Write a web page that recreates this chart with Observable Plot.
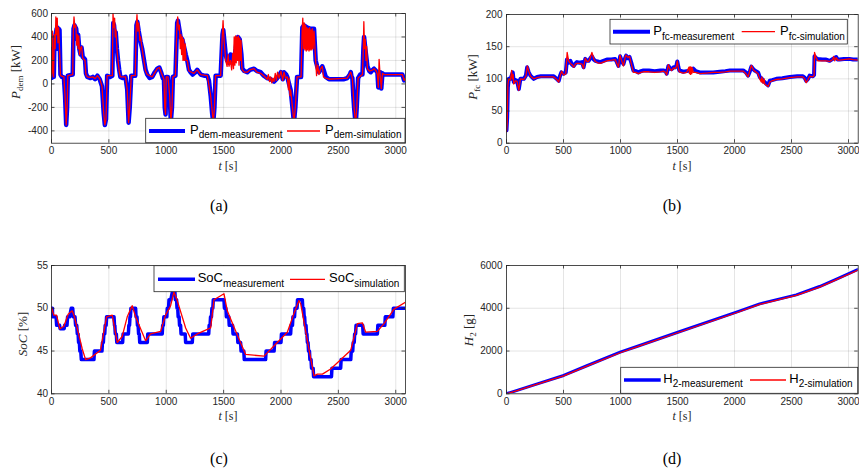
<!DOCTYPE html>
<html>
<head>
<meta charset="utf-8">
<script src="https://cdn.jsdelivr.net/npm/d3@7"></script>
<script src="https://cdn.jsdelivr.net/npm/@observablehq/plot@0.6"></script>
<style>
  html, body { margin: 0; padding: 0; background: #fff; }
  #page { position: relative; width: 859px; height: 474px; overflow: hidden; background: #fff; }
  .panel { position: absolute; }
  #overlay { position: absolute; left: 0; top: 0; pointer-events: none; }
</style>
</head>
<body>
<div id="page"></div>
<script>
// ---------------- DATA ----------------
const xTicks = [0, 500, 1000, 1500, 2000, 2500, 3000];
const pDemTicks = [-400, -200, 0, 200, 400, 600];
const pFcTicks = [0, 50, 100, 150, 200];
const socTicks = [40, 45, 50, 55];
const h2Ticks = [0, 2000, 4000, 6000];
const captions = ["(a)", "(b)", "(c)", "(d)"];

// [t (s), P_dem (kW)]
const pDemMeas = [[0,50],[4,280],[10,300],[14,90],[20,60],[26,380],[35,420],[45,470],[52,480],[58,300],[62,470],[70,460],[78,80],[90,60],[108,55],[118,-100],[128,-350],[136,-200],[142,70],[160,75],[185,80],[192,470],[200,500],[215,470],[224,380],[232,420],[242,300],[253,250],[262,310],[272,230],[282,220],[292,210],[300,90],[312,60],[340,50],[360,60],[380,40],[400,70],[420,40],[440,-20],[455,-250],[465,-350],[475,-300],[485,70],[510,60],[530,70],[538,520],[545,500],[552,420],[560,440],[570,300],[580,200],[590,120],[600,60],[620,50],[645,60],[660,-50],[672,-330],[682,-200],[695,70],[730,70],[740,500],[748,530],[760,450],[776,360],[790,300],[805,210],[820,120],[834,80],[855,50],[878,60],[900,100],[921,130],[940,140],[955,100],[970,50],[980,40],[987,-200],[994,-260],[1000,60],[1015,60],[1030,-100],[1040,-320],[1050,-200],[1058,60],[1080,70],[1095,520],[1102,540],[1115,460],[1125,400],[1140,380],[1154,320],[1170,250],[1183,200],[1198,120],[1212,100],[1230,80],[1241,90],[1255,100],[1270,120],[1285,100],[1300,80],[1330,70],[1358,70],[1372,30],[1387,-100],[1400,-250],[1410,-330],[1420,-200],[1430,70],[1474,70],[1490,420],[1497,460],[1505,380],[1518,250],[1530,200],[1547,180],[1560,250],[1575,180],[1590,200],[1605,300],[1615,380],[1625,400],[1640,380],[1655,250],[1663,130],[1680,110],[1706,100],[1730,120],[1765,130],[1790,110],[1823,100],[1850,70],[1880,50],[1910,40],[1939,20],[1960,40],[1983,70],[2000,100],[2015,40],[2026,100],[2045,80],[2055,60],[2070,0],[2084,-50],[2100,-200],[2113,-330],[2125,-200],[2140,60],[2175,60],[2186,480],[2200,500],[2230,480],[2260,470],[2288,470],[2302,200],[2315,150],[2331,100],[2345,120],[2360,150],[2375,110],[2390,60],[2418,40],[2450,40],[2500,40],[2550,40],[2578,50],[2600,80],[2608,100],[2615,60],[2622,50],[2630,-100],[2637,-200],[2651,-350],[2660,-200],[2672,50],[2690,80],[2710,80],[2718,300],[2724,400],[2735,300],[2753,150],[2770,110],[2782,100],[2800,120],[2811,130],[2830,110],[2840,100],[2848,-30],[2858,100],[2866,100],[2874,-40],[2884,90],[2898,80],[2927,80],[2960,80],[3000,80],[3040,80],[3058,80],[3073,30],[3080,50],[3085,50]];
const pDemSim = [[0,60],[4,250],[8,450],[12,100],[18,60],[25,420],[32,300],[38,570],[44,420],[50,560],[56,350],[62,480],[70,300],[78,70],[108,60],[118,-100],[128,-350],[138,-150],[142,70],[185,80],[190,450],[196,570],[204,480],[212,500],[220,330],[226,420],[232,300],[238,410],[244,250],[252,300],[262,320],[272,220],[292,200],[300,80],[312,60],[340,55],[360,60],[380,45],[400,70],[420,45],[440,-20],[455,-250],[465,-350],[475,-300],[485,70],[530,70],[536,600],[544,480],[550,560],[556,400],[562,460],[570,300],[580,200],[590,110],[600,60],[645,60],[660,-50],[672,-330],[682,-200],[695,70],[730,70],[738,480],[745,590],[752,450],[760,520],[770,370],[776,400],[790,300],[805,200],[820,110],[834,80],[878,60],[921,130],[940,140],[955,100],[980,40],[987,-200],[994,-260],[1000,60],[1015,60],[1030,-100],[1040,-320],[1050,-200],[1058,60],[1080,70],[1093,500],[1100,570],[1108,460],[1115,500],[1122,300],[1128,420],[1134,250],[1140,400],[1146,200],[1152,380],[1158,200],[1165,340],[1172,200],[1183,200],[1198,110],[1241,90],[1270,120],[1300,80],[1358,70],[1387,-100],[1410,-330],[1420,-200],[1430,70],[1474,70],[1488,400],[1495,540],[1502,400],[1510,300],[1518,200],[1530,150],[1540,250],[1547,150],[1560,200],[1570,120],[1580,260],[1586,130],[1592,400],[1598,160],[1604,410],[1610,180],[1616,400],[1622,200],[1628,410],[1634,160],[1640,390],[1646,200],[1652,370],[1658,150],[1663,120],[1680,100],[1706,100],[1730,120],[1765,130],[1790,100],[1823,90],[1850,70],[1880,40],[1890,80],[1900,20],[1910,60],[1920,10],[1930,50],[1939,20],[1950,90],[1960,30],[1970,100],[1983,50],[2000,110],[2015,30],[2026,100],[2040,50],[2055,60],[2065,-50],[2072,50],[2078,-100],[2084,-50],[2100,-200],[2113,-330],[2125,-200],[2140,60],[2175,60],[2184,450],[2190,560],[2196,300],[2202,520],[2208,290],[2214,500],[2220,280],[2226,480],[2232,290],[2238,470],[2244,280],[2250,480],[2256,290],[2262,460],[2268,290],[2274,470],[2280,300],[2288,450],[2302,200],[2310,70],[2320,160],[2331,80],[2345,130],[2360,150],[2370,60],[2390,50],[2418,40],[2578,50],[2608,100],[2622,50],[2637,-200],[2651,-350],[2660,-200],[2672,50],[2710,80],[2716,250],[2722,530],[2728,300],[2734,380],[2740,200],[2746,320],[2753,130],[2770,110],[2800,120],[2811,130],[2830,110],[2840,80],[2848,-30],[2855,210],[2862,100],[2874,-40],[2884,90],[2898,80],[2927,80],[3058,80],[3073,30],[3085,50]];

// [t (s), P_fc (kW)]
const pFcMeas = [[0,20],[6,40],[12,87],[20,100],[35,100],[45,105],[55,110],[64,95],[79,98],[93,97],[108,84],[122,100],[152,100],[170,105],[181,118],[195,110],[210,105],[239,100],[268,103],[300,104],[356,104],[414,104],[440,100],[458,97],[470,105],[481,110],[501,108],[520,110],[530,130],[545,125],[560,128],[575,122],[589,120],[605,124],[618,126],[640,125],[662,126],[676,118],[691,131],[705,128],[720,128],[735,132],[749,135],[765,130],[778,128],[800,127],[822,126],[850,128],[880,130],[920,130],[953,131],[968,126],[982,120],[997,135],[1010,128],[1026,123],[1040,132],[1049,136],[1065,132],[1079,134],[1095,125],[1113,113],[1135,112],[1157,110],[1180,112],[1201,113],[1250,113],[1300,112],[1350,113],[1376,113],[1395,112],[1405,108],[1420,120],[1435,116],[1449,115],[1465,118],[1478,118],[1490,120],[1498,127],[1508,118],[1516,113],[1551,111],[1580,112],[1609,113],[1625,115],[1638,116],[1660,112],[1696,110],[1750,110],[1813,110],[1870,111],[1920,112],[1959,113],[2020,113],[2076,113],[2100,110],[2119,105],[2135,112],[2148,119],[2165,115],[2177,113],[2207,110],[2221,103],[2240,100],[2250,97],[2265,95],[2280,92],[2295,90],[2309,97],[2330,98],[2367,100],[2420,101],[2484,103],[2550,104],[2600,104],[2615,102],[2629,97],[2645,100],[2659,105],[2688,104],[2698,106],[2702,135],[2715,132],[2731,131],[2770,130],[2804,130],[2835,128],[2862,131],[2892,134],[2905,130],[2921,130],[2960,131],[3008,131],[3040,130],[3085,130]];
const pFcSim = [[0,18],[6,30],[12,90],[20,100],[35,98],[45,113],[52,100],[58,107],[64,92],[79,97],[93,96],[108,82],[122,100],[152,99],[170,104],[183,120],[195,112],[210,104],[239,100],[268,102],[300,103],[356,103],[414,103],[440,99],[458,95],[470,104],[483,112],[501,106],[520,108],[532,141],[545,128],[560,124],[575,122],[589,118],[605,123],[618,124],[640,124],[662,123],[676,116],[691,132],[705,127],[720,127],[735,133],[749,141],[765,132],[778,127],[800,125],[822,124],[850,126],[880,128],[920,129],[953,130],[968,124],[982,118],[995,137],[1010,128],[1026,120],[1040,133],[1049,137],[1065,133],[1079,135],[1095,123],[1113,110],[1135,110],[1157,108],[1180,110],[1201,111],[1250,111],[1300,110],[1350,111],[1376,112],[1395,110],[1405,106],[1420,122],[1435,115],[1449,113],[1465,117],[1478,116],[1490,119],[1498,128],[1508,116],[1516,111],[1551,109],[1580,110],[1600,118],[1605,108],[1610,119],[1615,107],[1620,118],[1625,108],[1630,117],[1638,110],[1660,110],[1696,108],[1750,109],[1813,110],[1870,110],[1920,111],[1959,112],[2020,112],[2076,112],[2100,108],[2119,103],[2135,113],[2148,121],[2165,114],[2177,112],[2207,108],[2221,100],[2235,95],[2240,103],[2250,93],[2260,100],[2265,92],[2280,90],[2295,88],[2309,95],[2330,97],[2367,99],[2420,100],[2484,102],[2550,103],[2600,103],[2615,100],[2629,94],[2645,99],[2659,104],[2688,103],[2698,105],[2702,141],[2715,133],[2731,128],[2770,128],[2804,128],[2835,127],[2862,130],[2870,135],[2880,128],[2892,133],[2905,129],[2921,129],[2960,130],[3008,131],[3040,130],[3085,129]];

// [t (s), SoC (%)]
const socMeas = [[0,50],[8,50],[10,49],[40,49],[45,48],[70,48],[75,47.6],[110,47.6],[115,48],[135,48],[140,49],[160,49],[165,49.5],[172,50],[185,50],[190,49],[205,49],[210,48],[220,48],[225,47],[232,47],[236,46],[243,46],[247,45],[255,45],[260,44],[370,44],[374,45],[440,45],[444,46],[452,46],[456,47],[464,47],[468,48],[476,48],[480,49],[545,49],[549,48],[552,48],[556,47],[565,47],[569,46],[620,46],[624,47],[670,47],[674,48],[680,48],[684,49],[688,49],[692,50],[733,50],[737,49],[745,49],[749,48],[755,48],[759,47],[765,47],[769,46],[835,46],[839,47],[965,47],[969,48],[975,48],[979,49],[1005,49],[1009,50],[1020,50],[1024,51],[1040,51],[1055,52],[1075,52],[1079,51],[1090,51],[1094,50],[1100,50],[1104,49],[1112,49],[1116,48],[1125,48],[1129,47],[1165,47],[1169,46],[1227,46],[1231,47],[1370,47],[1374,48],[1382,48],[1386,49],[1394,49],[1398,50],[1406,50],[1410,51],[1503,51],[1507,50],[1520,50],[1524,49],[1545,49],[1549,48],[1578,48],[1582,47],[1620,47],[1624,46],[1648,46],[1652,45],[1676,45],[1680,44],[1866,44],[1870,45],[1940,45],[1944,46],[2000,46],[2004,47],[2084,47],[2088,48],[2100,48],[2104,49],[2118,49],[2122,50],[2140,50],[2144,51],[2186,51],[2190,50],[2198,50],[2202,49],[2206,49],[2210,48],[2218,48],[2222,47],[2226,47],[2230,46],[2236,46],[2240,45],[2248,45],[2252,44],[2262,44],[2266,43],[2280,43],[2284,42],[2440,42],[2444,43],[2520,43],[2524,44],[2608,44],[2612,45],[2625,45],[2629,46],[2638,46],[2642,47],[2650,47],[2654,48],[2712,48],[2716,47],[2840,47],[2844,48],[2905,48],[2909,49],[2975,49],[2979,50],[3085,50]];
const socSim = [[0,50.1],[20,49.2],[44,49.2],[73,47.6],[108,47.9],[145,49.3],[180,49.7],[200,49],[267,45.3],[297,44],[340,44.2],[427,45.1],[480,49],[529,49.2],[573,46],[616,46.7],[660,49],[703,50.3],[733,49],[820,46.2],[863,47],[951,47.3],[994,49.2],[1038,50.3],[1067,51.9],[1096,50.9],[1169,47.7],[1212,46.5],[1270,47],[1387,47.7],[1416,51],[1503,51.7],[1532,49.7],[1590,47.8],[1692,44.6],[1852,44.4],[1968,46],[2055,47.2],[2113,49.4],[2157,50.9],[2172,50.5],[2230,46.2],[2288,42.1],[2317,42.3],[2361,42.3],[2433,42.9],[2608,45.1],[2666,48.2],[2709,48.3],[2738,47.2],[2840,47.3],[2898,48.2],[2985,49.9],[3085,50.7]];

// [t (s), H2 (g)]
const h2Meas = [[0,0],[100,170],[250,430],[501,857],[700,1300],[997,1948],[1143,2212],[1522,2914],[2017,3817],[2221,4207],[2542,4627],[2746,5017],[2900,5380],[3085,5820]];
const h2Sim = [[0,0],[100,160],[250,420],[501,840],[700,1280],[997,1920],[1143,2190],[1522,2890],[2017,3790],[2221,4180],[2542,4600],[2746,4990],[2900,5350],[3085,5790]];

// ---------------- DRAWING ----------------
const INK = "#262626";
const page = document.getElementById("page");

function panel(cfg) {
  const fh = cfg.h - cfg.mt - cfg.mb;
  const fw = cfg.w - cfg.ml - cfg.mr;
  const tl = 3.5;
  const fx = d => d[0], fy = d => d[1];
  const plot = Plot.plot({
    width: cfg.w, height: cfg.h,
    marginLeft: cfg.ml, marginRight: cfg.mr, marginTop: cfg.mt, marginBottom: cfg.mb,
    style: {fontFamily: "'Liberation Sans', Arial, sans-serif", fontSize: "10px", color: INK, background: "transparent", overflow: "visible"},
    x: {domain: [0, 3085]},
    y: {domain: cfg.yDomain},
    marks: [
      Plot.gridX(xTicks, {stroke: INK, strokeOpacity: 0.15, strokeWidth: 0.8}),
      Plot.gridY(cfg.yTicks, {stroke: INK, strokeOpacity: 0.15, strokeWidth: 0.8}),
      Plot.axisX(xTicks, {tickSize: 0, tickPadding: 4, label: null, tickFormat: d => String(d)}),
      Plot.axisY(cfg.yTicks, {tickSize: 0, tickPadding: cfg.tp, label: null, tickFormat: d => String(d)}),
      Plot.line(cfg.meas, {x: fx, y: fy, stroke: "#0000ff", strokeWidth: cfg.mw, clip: true}),
      Plot.line(cfg.sim, {x: fx, y: fy, stroke: "#ff0000", strokeWidth: 1.3, clip: true}),
      Plot.tickX(xTicks, {x: d => d, insetTop: fh - tl, stroke: INK, strokeWidth: 0.8}),
      Plot.tickX(xTicks, {x: d => d, insetBottom: fh - tl, stroke: INK, strokeWidth: 0.8}),
      Plot.tickY(cfg.yTicks, {y: d => d, insetRight: fw - tl, stroke: INK, strokeWidth: 0.8}),
      Plot.tickY(cfg.yTicks, {y: d => d, insetLeft: fw - tl, stroke: INK, strokeWidth: 0.8}),
      Plot.frame({stroke: INK, strokeWidth: 0.8})
    ]
  });
  plot.classList.add("panel");
  plot.style.left = cfg.x0 + "px";
  plot.style.top = cfg.y0 + "px";
  page.appendChild(plot);
}

panel({x0: 0, y0: 0, w: 430, h: 180, ml: 51, mr: 25, mt: 13, mb: 37.3, tp: 3.5,
  yDomain: [-505, 600], yTicks: pDemTicks, meas: pDemMeas, sim: pDemSim, mw: 4.5});
panel({x0: 430, y0: 0, w: 429, h: 180, ml: 76, mr: 1.3, mt: 14, mb: 37.3, tp: 4,
  yDomain: [0, 200], yTicks: pFcTicks, meas: pFcMeas, sim: pFcSim, mw: 4});
panel({x0: 0, y0: 250, w: 430, h: 180, ml: 51, mr: 25, mt: 15, mb: 36.7, tp: 3.5,
  yDomain: [40, 55], yTicks: socTicks, meas: socMeas, sim: socSim, mw: 3.5});
panel({x0: 430, y0: 250, w: 429, h: 180, ml: 76, mr: 1.3, mt: 15, mb: 36.7, tp: 4,
  yDomain: [0, 6000], yTicks: h2Ticks, meas: h2Meas, sim: h2Sim, mw: 3});

// overlay: labels, legends, captions
const svg = d3.select(page).append("svg").attr("id", "overlay").attr("width", 859).attr("height", 474);
const SERIF = "'Liberation Serif', 'Times New Roman', serif";
const SANS = "'Liberation Sans', Arial, sans-serif";

function xLabel(cx, by) {
  const t = svg.append("text").attr("x", cx).attr("y", by).attr("text-anchor", "middle")
    .attr("font-family", SERIF).attr("font-size", 12).attr("fill", INK);
  t.append("tspan").attr("font-style", "italic").text("t");
  t.append("tspan").text(" [s]");
}
function yLabel(bx, cy, main, italicMain, sub, unit) {
  const t = svg.append("text").attr("transform", `translate(${bx},${cy}) rotate(-90)`).attr("text-anchor", "middle")
    .attr("font-family", SERIF).attr("font-size", 13).attr("fill", INK);
  t.append("tspan").attr("font-style", italicMain ? "italic" : "normal").text(main);
  if (sub) {
    t.append("tspan").attr("font-size", 9).attr("dy", 3).text(sub);
    t.append("tspan").attr("dy", -3).text(" " + unit);
  } else {
    t.append("tspan").text(" " + unit);
  }
}
function legend(L) {
  svg.append("rect").attr("x", L.x0).attr("y", L.y0).attr("width", L.x1 - L.x0).attr("height", L.y1 - L.y0)
    .attr("fill", "#fff").attr("stroke", INK).attr("stroke-width", 0.8);
  svg.append("line").attr("x1", L.b1).attr("x2", L.b2).attr("y1", L.ly).attr("y2", L.ly)
    .attr("stroke", "#0000ff").attr("stroke-width", L.bw);
  svg.append("line").attr("x1", L.r1).attr("x2", L.r2).attr("y1", L.ly).attr("y2", L.ly)
    .attr("stroke", "#ff0000").attr("stroke-width", 1.3);
  [[L.t1, L.s1], [L.t2, L.s2]].forEach(([tx, sub]) => {
    const t = svg.append("text").attr("x", tx).attr("y", L.base).attr("font-family", SANS)
      .attr("font-size", 13).attr("fill", "#000");
    t.append("tspan").text(L.main);
    t.append("tspan").attr("font-size", 10).attr("dy", 4.7).text(sub);
  });
}

// y labels
yLabel(20, 72, "P", true, "dem", "[kW]");
yLabel(477, 77, "P", true, "fc", "[kW]");
yLabel(26.5, 334, "SoC", true, null, "[%]");
yLabel(473, 330, "H", true, "2", "[g]");
// x labels
xLabel(228, 169.5);
xLabel(682, 169.5);
xLabel(228, 420);
xLabel(682, 420);

// legends
legend({x0: 145.7, y0: 118.3, x1: 405, y1: 142.7, ly: 131, b1: 149, b2: 185, r1: 287, r2: 320, bw: 4,
  t1: 190, t2: 325, base: 133.5, main: "P", s1: "dem-measurement", s2: "dem-simulation"});
legend({x0: 610, y0: 19.3, x1: 847.3, y1: 44, ly: 31.7, b1: 613, b2: 650, r1: 741.7, r2: 775, bw: 4,
  t1: 653.3, t2: 780, base: 35.2, main: "P", s1: "fc-measurement", s2: "fc-simulation"});
legend({x0: 154, y0: 265.7, x1: 404.3, y1: 291.7, ly: 279.3, b1: 158, b2: 195, r1: 290, r2: 325, bw: 3.5,
  t1: 197.7, t2: 329, base: 282.3, main: "SoC", s1: "measurement", s2: "simulation"});
legend({x0: 620.7, y0: 367.3, x1: 857.7, y1: 393.3, ly: 380, b1: 624, b2: 660.7, r1: 750, r2: 786, bw: 3.5,
  t1: 663.3, t2: 789.3, base: 382.7, main: "H", s1: "2-measurement", s2: "2-simulation"});

// captions
[[219, 211], [672, 211], [219, 464], [672, 464]].forEach(([cx, by], i) => {
  svg.append("text").attr("x", cx).attr("y", by).attr("text-anchor", "middle")
    .attr("font-family", SERIF).attr("font-size", 16).attr("fill", "#000").text(captions[i]);
});
</script>
</body>
</html>
